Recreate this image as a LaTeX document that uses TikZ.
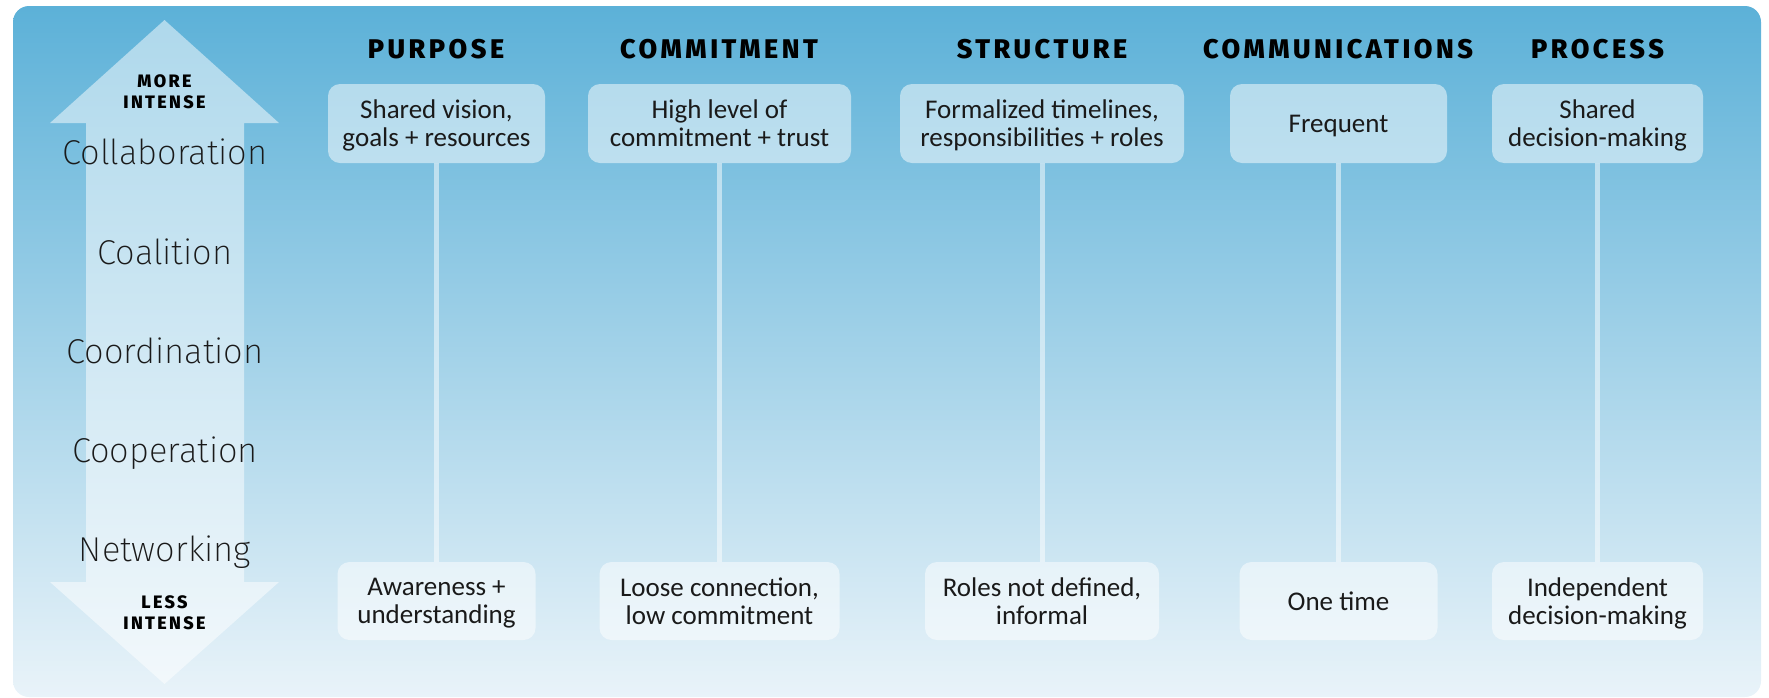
\documentclass[tikz,border=0pt]{standalone}
\usepackage{fontspec}
\setmainfont{Carlito}
\newfontfamily\stagefont{Fira Sans ExtraLight}
\newfontfamily\headfont[LetterSpace=13]{Fira Sans ExtraBold}
\usepackage{tikz}

\definecolor{bgtop}{HTML}{5CB1D8}
\definecolor{bgbottom}{HTML}{E9F3F9}
\definecolor{ink}{HTML}{1A1A1A}

\begin{document}
\begin{tikzpicture}[x=1pt,y=-1pt,
    hdr/.style={anchor=base,font=\headfont\fontsize{27}{29}\selectfont,text=black,inner sep=0pt},
    tag/.style={align=center,font=\headfont\fontsize{18}{21}\selectfont,text=black,inner sep=0pt},
    stage/.style={anchor=base,font=\stagefont\fontsize{34.5}{38}\selectfont,text=ink,inner sep=0pt},
    card/.style={fill=white,fill opacity=0.5,text opacity=1,rounded corners=12pt,align=center,
      inner sep=0pt,text depth=0pt,text=ink,font=\fontsize{27}{28}\selectfont},
    topcard/.style={card,minimum height=79pt},
    lowcard/.style={card,minimum height=78pt},
    link/.style={white,opacity=0.5,line width=5pt}]
    \useasboundingbox (0,0) rectangle (1769,697);
    % background panel
    \shade[top color=bgtop,bottom color=bgbottom,rounded corners=16pt] (13,6) rectangle (1761,697);
    % intensity arrow
    \fill[white,opacity=0.5] (164.5,20) -- (279,123) -- (244,123) -- (244,582) -- (279,582)
      -- (164.5,684) -- (50,582) -- (86,582) -- (86,123) -- (50,123) -- cycle;
    \node[tag] (more) at (164.5,92) {MORE\\INTENSE};
    \node[tag] (less) at (164.5,613) {LESS\\INTENSE};
    \node[stage] (collab) at (165,164) {Collaboration};
    \node[stage] (coal) at (165,264) {Coalition};
    \node[stage] (coord) at (165,363) {Coordination};
    \node[stage] (coop) at (165,462) {Cooperation};
    \node[stage] (netw) at (165,561) {Networking};

    % column headings
    \node[hdr] (hpurp) at (436,58) {PURPOSE};
    \node[hdr] (hcomm) at (719,58) {COMMITMENT};
    \node[hdr] (hstruc) at (1042,58) {STRUCTURE};
    \node[hdr] (hcomms) at (1338,58) {COMMUNICATIONS};
    \node[hdr] (hproc) at (1597.5,58) {PROCESS};

    % more intense end
    \node[topcard,minimum width=217pt] (purpT) at (436.5,123.5) {Shared vision,\\goals + resources};
    \node[topcard,minimum width=263pt] (commT) at (719.5,123.5) {High level of\\commitment + trust};
    \node[topcard,minimum width=284pt] (strucT) at (1042,123.5) {Formalized timelines,\\responsibilities + roles};
    \node[topcard,minimum width=217pt] (commsT) at (1338.5,123.5) {Frequent};
    \node[topcard,minimum width=211pt] (procT) at (1597.5,123.5) {Shared\\decision-making};

    % less intense end
    \node[lowcard,minimum width=198pt] (purpB) at (436.5,601) {Awareness +\\understanding};
    \node[lowcard,minimum width=240pt] (commB) at (719.5,601) {Loose connection,\\low commitment};
    \node[lowcard,minimum width=234pt] (strucB) at (1042,601) {Roles not defined,\\informal};
    \node[lowcard,minimum width=198pt] (commsB) at (1338.5,601) {One time};
    \node[lowcard,minimum width=211pt] (procB) at (1597.5,601) {Independent\\decision-making};

    \draw[link] (purpT.south) -- (purpB.north);
    \draw[link] (commT.south) -- (commB.north);
    \draw[link] (strucT.south) -- (strucB.north);
    \draw[link] (commsT.south) -- (commsB.north);
    \draw[link] (procT.south) -- (procB.north);
\end{tikzpicture}
\end{document}
